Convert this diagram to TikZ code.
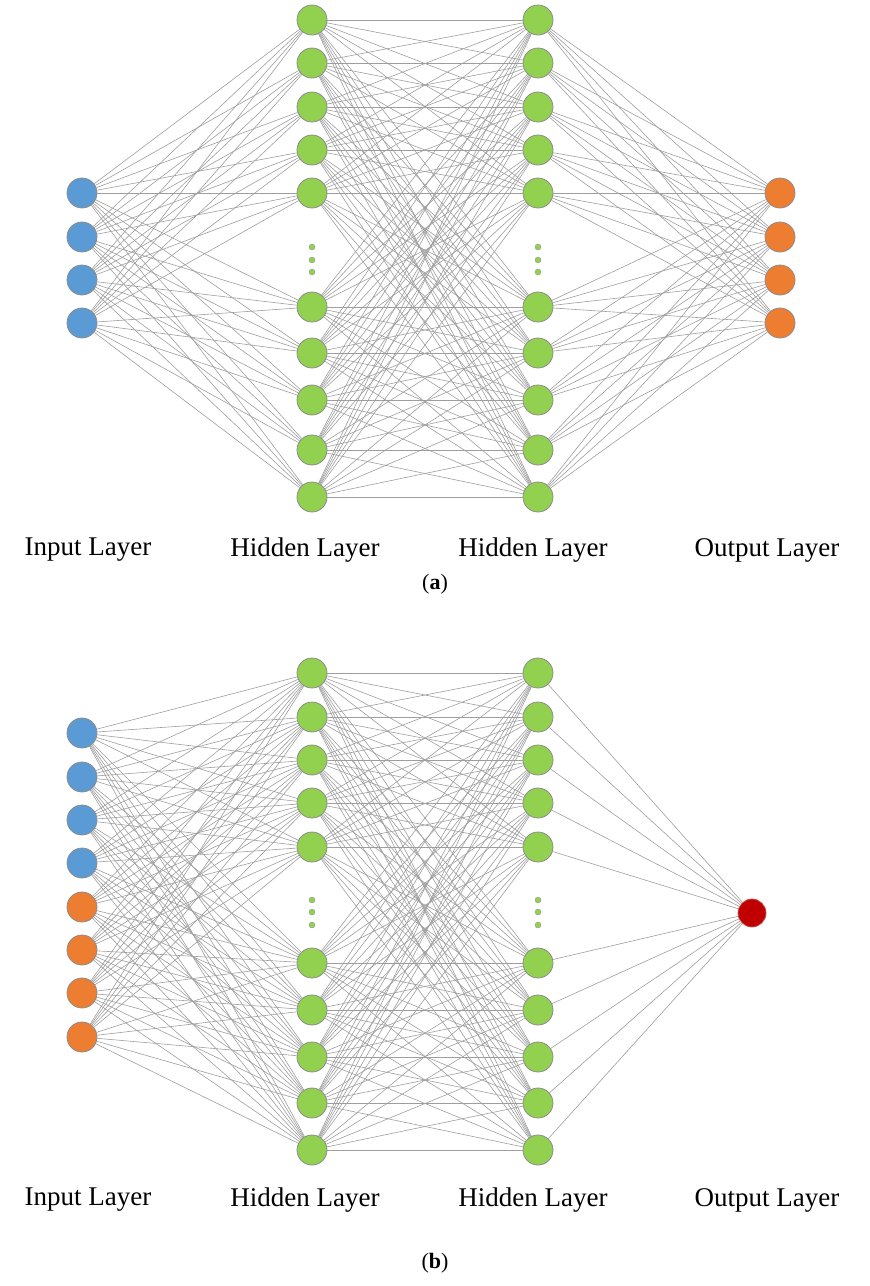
\documentclass[tikz,border=0pt]{standalone}
\usepackage{fontspec}
\setmainfont{Liberation Serif}
\begin{document}
\begin{tikzpicture}[x=1pt,y=-1pt,
  neuron/.style={circle,draw=black!45,line width=0.8pt,minimum size=30pt,inner sep=0pt},
  inp/.style={neuron,fill=blue!45!cyan!60!black!0,fill={rgb,255:red,91;green,155;blue,213}},
  hid/.style={neuron,fill={rgb,255:red,146;green,208;blue,80}},
  outp/.style={neuron,fill={rgb,255:red,237;green,125;blue,49}},
  red/.style={neuron,fill={rgb,255:red,192;green,0;blue,0},draw={rgb,255:red,200;green,80;blue,80}},
  dot/.style={circle,draw=black!40,line width=0.4pt,fill={rgb,255:red,146;green,208;blue,80},minimum size=6pt,inner sep=0pt},
  conn/.style={draw=black!38,line width=0.6pt},
  lab/.style={font=\fontsize{27}{30}\selectfont}]
\useasboundingbox (0,0) rectangle (870,1286);
% ---- panel a
\def\hys{20,63,107,150,193,307,353,400,450,497}
\foreach \y [count=\i] in {193,237,280,323} {\node[inp] (ai\i) at (82,\y) {};}
\foreach \y [count=\i] in \hys {\node[hid] (ah\i) at (312,\y) {}; \node[hid] (ag\i) at (538,\y) {};}
\foreach \y [count=\i] in {193,237,280,323} {\node[outp] (ao\i) at (780,\y) {};}
\begin{scope}[on background layer/.style={}]
\end{scope}
\foreach \y [count=\i] in {247,260,272} {\node[dot] (ad\i) at (312,\y) {}; \node[dot] (ae\i) at (538,\y) {};}
% ---- panel b
\def\hyb{673,717,760,803,847,963,1010,1057,1103,1150}
\foreach \y [count=\i] in {733,777,820,863} {\node[inp] (bi\i) at (82,\y) {};}
\foreach \y [count=\i] in {907,950,993,1037} {\node[outp] (bj\i) at (82,\y) {};}
\foreach \y [count=\i] in \hyb {\node[hid] (bh\i) at (312,\y) {}; \node[hid] (bg\i) at (538,\y) {};}
\node[red,minimum size=28pt] (bo) at (752,913) {};
\foreach \y [count=\i] in {900,912,925} {\node[dot] (bd\i) at (312,\y) {}; \node[dot] (be\i) at (538,\y) {};}
% connections (drawn after, but clipped by nodes redrawn below)
\begin{scope}
\foreach \a in {1,...,4} \foreach \b in {1,...,10} {\draw[conn] (ai\a) -- (ah\b);}
\foreach \a in {1,...,10} \foreach \b in {1,...,10} {\draw[conn] (ah\a) -- (ag\b);}
\foreach \a in {1,...,10} \foreach \b in {1,...,4} {\draw[conn] (ag\a) -- (ao\b);}
\foreach \a in {1,...,4} \foreach \b in {1,...,10} {\draw[conn] (bi\a) -- (bh\b); \draw[conn] (bj\a) -- (bh\b);}
\foreach \a in {1,...,10} \foreach \b in {1,...,10} {\draw[conn] (bh\a) -- (bg\b);}
\foreach \a in {1,...,10} {\draw[conn] (bg\a) -- (bo);}
\end{scope}
% labels
\node[lab] (la1) at (88,550) {Input Layer};
\node[lab] (la2) at (305,550) {Hidden Layer};
\node[lab] (la3) at (533,550) {Hidden Layer};
\node[lab] (la4) at (767,550) {Output Layer};
\node[font=\fontsize{22}{26}\selectfont] (ca) at (435,584) {(\textbf{a})};
\node[lab] (lb1) at (88,1200) {Input Layer};
\node[lab] (lb2) at (305,1200) {Hidden Layer};
\node[lab] (lb3) at (533,1200) {Hidden Layer};
\node[lab] (lb4) at (767,1200) {Output Layer};
\node[font=\fontsize{22}{26}\selectfont] (cb) at (435,1263) {(\textbf{b})};
\end{tikzpicture}
\end{document}
